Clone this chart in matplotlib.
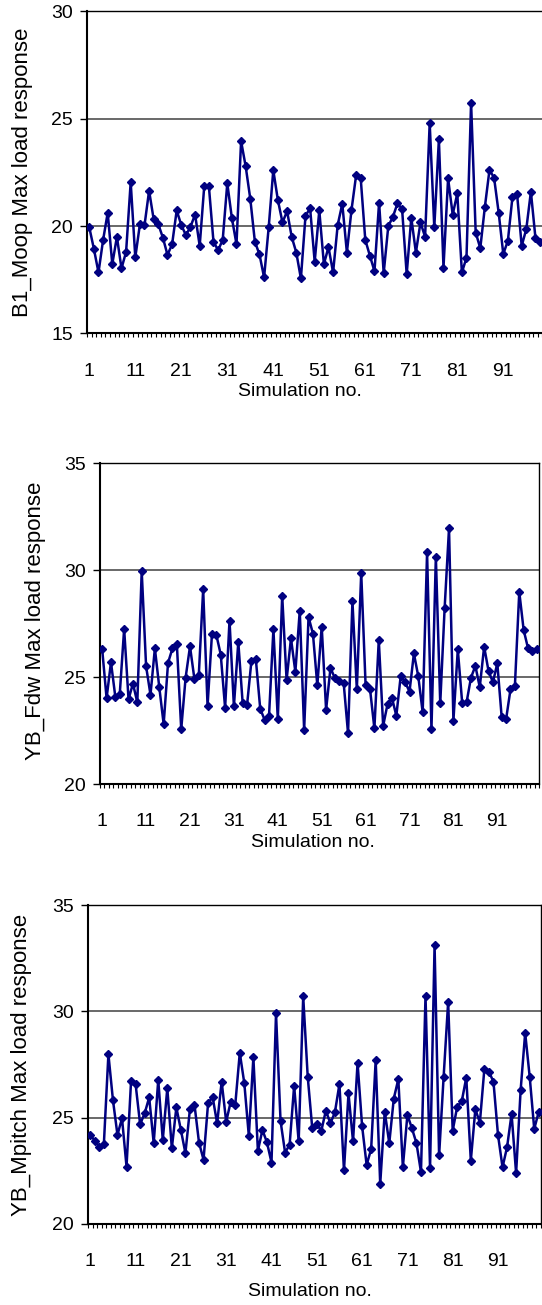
import matplotlib.pyplot as plt
import numpy as np

plt.rcParams['font.family'] = ['Liberation Sans', 'DejaVu Sans']

sim_no = np.arange(1, 101)

b1_moop = [19.94, 18.94, 17.84, 19.35, 20.62, 18.23, 19.50, 18.03, 18.80, 22.05,
           18.54, 20.08, 20.03, 21.65, 20.31, 20.09, 19.46, 18.66, 19.15, 20.73,
           20.05, 19.58, 19.97, 20.54, 19.08, 21.89, 21.85, 19.27, 18.88, 19.35,
           22.00, 20.37, 19.16, 23.96, 22.78, 21.27, 19.27, 18.68, 17.61, 19.94,
           22.61, 21.21, 20.17, 20.70, 19.50, 18.77, 17.56, 20.47, 20.84, 18.34,
           20.73, 18.23, 19.02, 17.84, 20.05, 21.04, 18.77, 20.75, 22.36, 22.24,
           19.36, 18.62, 17.90, 21.10, 17.81, 20.00, 20.43, 21.06, 20.79, 17.76,
           20.39, 18.77, 20.17, 19.50, 24.80, 19.94, 24.04, 18.07, 22.22, 20.54,
           21.52, 17.84, 18.53, 25.75, 19.70, 18.97, 20.90, 22.62, 22.25, 20.62,
           18.70, 19.32, 21.37, 21.48, 19.08, 19.86, 21.60, 19.43, 19.27, 19.20]

yb_fdw = [26.29, 24.01, 25.69, 24.06, 24.21, 27.25, 23.96, 24.69, 23.82, 29.95,
          25.50, 24.17, 26.34, 24.53, 22.80, 25.66, 26.34, 26.56, 22.56, 24.97,
          26.43, 24.92, 25.08, 29.10, 23.65, 27.00, 26.97, 26.05, 23.55, 27.64,
          23.63, 26.64, 23.77, 23.70, 25.77, 25.83, 23.51, 23.00, 23.19, 27.23,
          23.03, 28.80, 24.86, 26.81, 25.24, 28.10, 22.52, 27.80, 27.03, 24.61,
          27.36, 23.47, 25.42, 24.95, 24.80, 24.72, 22.37, 28.54, 24.42, 29.86,
          24.61, 24.45, 22.60, 26.73, 22.72, 23.74, 24.03, 23.19, 25.06, 24.76,
          24.32, 26.10, 25.03, 23.35, 30.82, 22.56, 30.63, 23.77, 28.22, 31.95,
          22.96, 26.29, 23.79, 23.82, 24.97, 25.52, 24.53, 26.42, 25.28, 24.76,
          25.64, 23.11, 23.03, 24.42, 24.56, 28.98, 27.20, 26.34, 26.21, 26.29]

yb_mpitch = [24.19, 23.91, 23.64, 23.77, 27.98, 25.83, 24.19, 24.97, 22.70, 26.72,
             26.58, 24.69, 25.20, 25.95, 23.80, 26.77, 23.95, 26.38, 23.56, 25.48,
             24.42, 23.33, 25.41, 25.61, 23.83, 23.02, 25.67, 25.98, 24.73, 26.69,
             24.81, 25.75, 25.60, 28.05, 26.62, 24.14, 27.83, 23.44, 24.42, 23.84,
             22.89, 29.90, 24.84, 23.36, 23.72, 26.50, 23.88, 30.70, 26.92, 24.50,
             24.70, 24.38, 25.33, 24.73, 25.25, 26.58, 22.52, 26.14, 23.88, 27.58,
             24.61, 22.78, 23.52, 27.70, 21.88, 25.28, 23.80, 25.90, 26.81, 22.67,
             25.13, 24.50, 23.80, 22.44, 30.73, 22.63, 33.11, 23.22, 26.92, 30.44,
             24.39, 25.52, 25.77, 26.88, 22.98, 25.39, 24.77, 27.31, 27.16, 26.69,
             24.19, 22.67, 23.61, 25.17, 22.39, 26.30, 28.98, 26.92, 24.47, 25.28]

ylabels = ['B1_Moop Max load response', 'YB_Fdw Max load response',
           'YB_Mpitch Max load response']
ylims = [(15, 30), (20, 35), (20, 35)]
xtick_labels = [str(v) for v in range(1, 100, 10)]

fig = plt.figure(figsize=(5.42, 13.05), dpi=100)

# [left, bottom, width, height] in figure fractions, xlabel pos, ylabel pos
boxes = [
    ([0.1605, 0.7445, 0.8487, 0.2467], (0.463, -0.179), (-0.141, 0.50)),
    ([0.1845, 0.3992, 0.8100, 0.2460], (0.485, -0.181), (-0.148, 0.51)),
    ([0.1624, 0.0621, 0.8358, 0.2444], (0.490, -0.213), (-0.146, 0.50)),
]
series = [b1_moop, yb_fdw, yb_mpitch]

for vals, lab, lim, (box, xl, yl) in zip(series, ylabels, ylims, boxes):
    ax = fig.add_axes(box)
    ax.plot(sim_no, vals, color='#000080', lw=1.8, marker='D', ms=4.5,
            mec='#000080', mfc='#000080', zorder=3)
    ax.set_xlim(0.5, 100.5)
    ax.set_ylim(*lim)
    ax.set_yticks(np.arange(lim[0], lim[1] + 1, 5))
    for g in range(lim[0] + 5, lim[1], 5):
        ax.axhline(g, color='#404040', lw=1.1, zorder=1)

    ax.set_xticks(range(1, 100, 10))
    ax.set_xticklabels(xtick_labels)
    ax.set_xticks(np.arange(0.5, 101, 1), minor=True)
    ax.tick_params(axis='x', which='major', length=0, pad=21, labelsize=14)
    ax.tick_params(axis='x', which='minor', length=3, width=0.8, direction='out')
    ax.tick_params(axis='y', length=5, width=1, pad=5, labelsize=14)

    for s in ax.spines.values():
        s.set_color('black')
        s.set_linewidth(1.0)
    ax.spines['left'].set_linewidth(1.5)
    ax.spines['bottom'].set_linewidth(1.5)

    ax.set_xlabel('Simulation no.', fontsize=14)
    ax.xaxis.label.set_va('center')
    ax.xaxis.set_label_coords(*xl)
    ax.set_ylabel(lab, fontsize=16)
    ax.yaxis.label.set_va('center')
    ax.yaxis.set_label_coords(*yl)

fig.savefig('out.png', dpi=100)
